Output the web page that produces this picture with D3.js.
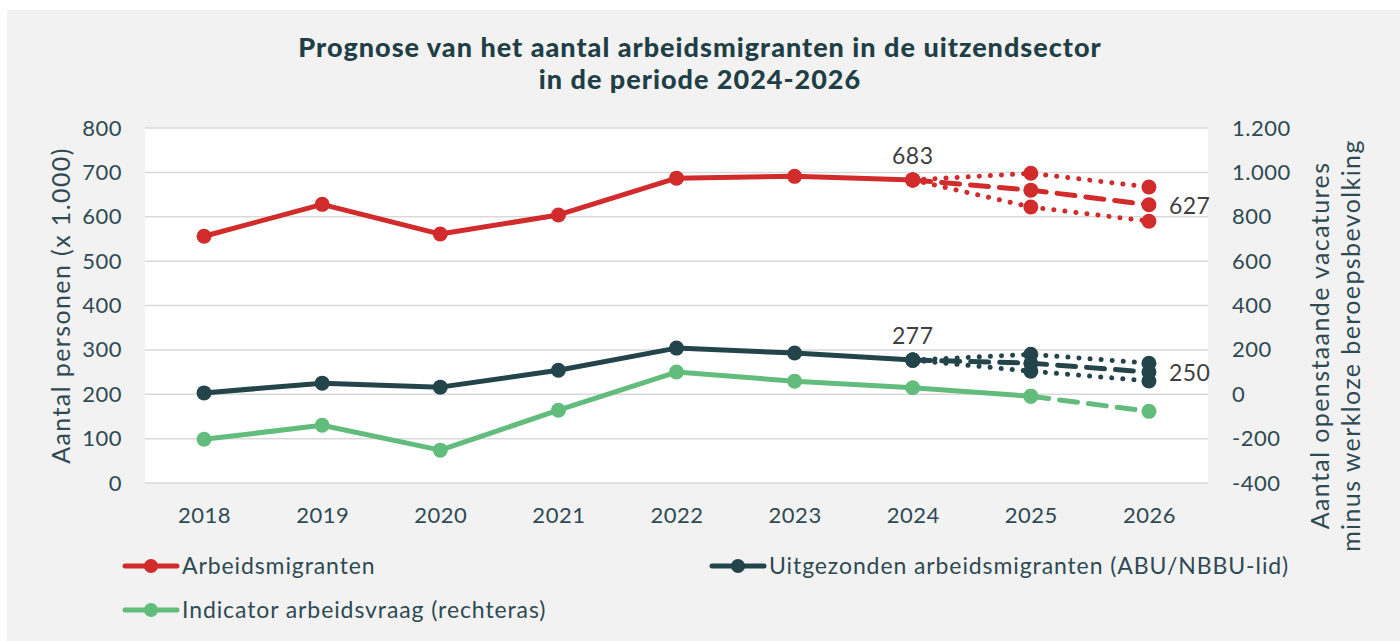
<!DOCTYPE html>
<html>
<head>
<meta charset="utf-8">
<script src="https://cdn.jsdelivr.net/npm/d3@7"></script>
<style>
  html, body { margin: 0; padding: 0; background: #fff; }
  svg { display: block; font-family: Lato, "Open Sans", sans-serif; }
</style>
</head>
<body>
<div class="graph"></div>
<script>
// Data
const years = ['2018', '2019', '2020', '2021', '2022', '2023', '2024', '2025', '2026'];
const leftTicks = [0, 100, 200, 300, 400, 500, 600, 700, 800];
const rightTicks = [-400, -200, 0, 200, 400, 600, 800, 1000, 1200];

const migranten = [556, 628, 561, 604, 687, 691, 683];
const migrantenMid = [683, 660, 627];
const migrantenHigh = [683, 698, 667];
const migrantenLow = [683, 622, 590];

const uitgezonden = [203, 225, 216, 254, 304, 293, 277];
const uitgezondenMid = [277, 270, 250];
const uitgezondenHigh = [277, 290, 270];
const uitgezondenLow = [277, 252, 230];

const indicator = [-203, -140, -252, -72, 100, 59, 29, -9];
const indicatorForecast = [-9, -77];

const forecastYears = ['2024', '2025', '2026'];

document.addEventListener('DOMContentLoaded', function () {
  const width = 1400;
  const height = 641;
  const red = '#d22b2b';
  const dark = '#24444b';
  const green = '#62bd7c';
  const textColor = '#2e4a52';

  const svg = d3.select('.graph')
    .append('svg')
    .attr('width', width)
    .attr('height', height);

  // Background panel
  svg.append('rect')
    .attr('x', 7).attr('y', 10)
    .attr('width', width - 7).attr('height', height - 10)
    .attr('fill', '#f2f2f2');

  const plot = { left: 145, right: 1208, top: 128, bottom: 483 };

  svg.append('rect')
    .attr('x', plot.left).attr('y', plot.top)
    .attr('width', plot.right - plot.left).attr('height', plot.bottom - plot.top)
    .attr('fill', '#fff');

  // Scales
  const x = d3.scalePoint()
    .domain(years)
    .range([plot.left, plot.right])
    .padding(0.5);

  const yLeft = d3.scaleLinear().domain([0, 800]).range([plot.bottom, plot.top]);
  const yRight = d3.scaleLinear().domain([-400, 1200]).range([plot.bottom, plot.top]);

  // Gridlines
  svg.append('g')
    .selectAll('line')
    .data(leftTicks)
    .enter()
    .append('line')
    .attr('x1', plot.left).attr('x2', plot.right)
    .attr('y1', d => yLeft(d)).attr('y2', d => yLeft(d))
    .attr('stroke', '#d9d9d9')
    .attr('stroke-width', 1.5);

  function styleTicks(g) {
    g.select('.domain').remove();
    g.selectAll('text')
      .attr('font-size', '22px')
      .attr('font-family', 'Lato, sans-serif')
      .attr('letter-spacing', '0.5px')
      .attr('fill', textColor);
  }

  // Left axis
  svg.append('g')
    .attr('transform', `translate(${plot.left - 23},0)`)
    .call(d3.axisLeft(yLeft).tickValues(leftTicks).tickSize(0).tickPadding(0))
    .call(styleTicks);

  // Right axis
  const nl = d3.formatLocale({ decimal: ',', thousands: '.', grouping: [3], currency: ['€', ''], minus: '-' });
  svg.append('g')
    .attr('transform', `translate(${plot.right + 24},0)`)
    .call(d3.axisRight(yRight).tickValues(rightTicks).tickSize(0).tickPadding(0).tickFormat(nl.format(',')))
    .call(styleTicks);

  // X axis
  svg.append('g')
    .attr('transform', `translate(0,${plot.bottom + 20})`)
    .call(d3.axisBottom(x).tickSize(0).tickPadding(0))
    .call(styleTicks)
    .selectAll('text')
    .attr('dy', '0.9em');

  // Axis titles
  const mid = (plot.top + plot.bottom) / 2;
  svg.append('text')
    .attr('transform', `translate(70,${mid}) rotate(-90)`)
    .attr('text-anchor', 'middle')
    .attr('font-size', '25px')
    .attr('letter-spacing', '1.4px')
    .attr('fill', textColor)
    .text('Aantal personen (x 1.000)');

  svg.append('text')
    .attr('transform', `translate(1329,${mid + 40}) rotate(-90)`)
    .attr('text-anchor', 'middle')
    .attr('font-size', '25px')
    .attr('letter-spacing', '1.4px')
    .attr('fill', textColor)
    .text('Aantal openstaande vacatures');
  svg.append('text')
    .attr('transform', `translate(1360,${mid + 40}) rotate(-90)`)
    .attr('text-anchor', 'middle')
    .attr('font-size', '25px')
    .attr('letter-spacing', '1.4px')
    .attr('fill', textColor)
    .text('minus werkloze beroepsbevolking');

  // Title
  const title = svg.append('text')
    .attr('text-anchor', 'middle')
    .attr('font-size', '27px')
    .attr('font-weight', 900)
    .attr('letter-spacing', '1px')
    .attr('fill', '#1f3f46');
  title.append('tspan').attr('x', 700).attr('y', 57).text('Prognose van het aantal arbeidsmigranten in de uitzendsector');
  title.append('tspan').attr('x', 700).attr('y', 89).text('in de periode 2024-2026');

  // Line helper
  function drawSeries(values, yearList, scale, color, dash) {
    const pts = values.map((v, i) => [x(yearList[i]), scale(v)]);
    svg.append('path')
      .attr('d', d3.line()(pts))
      .attr('fill', 'none')
      .attr('stroke', color)
      .attr('stroke-width', 5)
      .attr('stroke-linecap', 'round')
      .attr('stroke-linejoin', 'round')
      .attr('stroke-dasharray', dash || null);
    svg.append('g')
      .selectAll('circle')
      .data(pts)
      .enter()
      .append('circle')
      .attr('cx', d => d[0])
      .attr('cy', d => d[1])
      .attr('r', 7.5)
      .attr('fill', color);
  }

  const dotted = '0.1 11';
  const dashed = '18 11';

  drawSeries(indicator, years, yRight, green);
  drawSeries(indicatorForecast, ['2025', '2026'], yRight, green, dashed);

  drawSeries(uitgezonden, years, yLeft, dark);
  drawSeries(uitgezondenHigh, forecastYears, yLeft, dark, dotted);
  drawSeries(uitgezondenLow, forecastYears, yLeft, dark, dotted);
  drawSeries(uitgezondenMid, forecastYears, yLeft, dark, dashed);

  drawSeries(migranten, years, yLeft, red);
  drawSeries(migrantenHigh, forecastYears, yLeft, red, dotted);
  drawSeries(migrantenLow, forecastYears, yLeft, red, dotted);
  drawSeries(migrantenMid, forecastYears, yLeft, red, dashed);

  // Data labels
  const labels = [
    { year: '2024', value: migranten[6], dx: 0, dy: -16, anchor: 'middle' },
    { year: '2026', value: migrantenMid[2], dx: 20, dy: 9, anchor: 'start' },
    { year: '2024', value: uitgezonden[6], dx: 0, dy: -16, anchor: 'middle' },
    { year: '2026', value: uitgezondenMid[2], dx: 20, dy: 9, anchor: 'start' }
  ];
  svg.append('g')
    .selectAll('text')
    .data(labels)
    .enter()
    .append('text')
    .attr('x', d => x(d.year) + d.dx)
    .attr('y', d => yLeft(d.value) + d.dy)
    .attr('text-anchor', d => d.anchor)
    .attr('font-size', '23px')
    .attr('letter-spacing', '0.5px')
    .attr('fill', '#404040')
    .text(d => d.value);

  // Legend
  const legendItems = [
    { name: 'Arbeidsmigranten', color: red, x: 123, y: 566 },
    { name: 'Uitgezonden arbeidsmigranten (ABU/NBBU-lid)', color: dark, x: 710, y: 566 },
    { name: 'Indicator arbeidsvraag (rechteras)', color: green, x: 123, y: 610 }
  ];
  const legend = svg.append('g').attr('class', 'legend');
  const item = legend.selectAll('g')
    .data(legendItems)
    .enter()
    .append('g')
    .attr('transform', d => `translate(${d.x},${d.y})`);
  item.append('line')
    .attr('x1', 2).attr('x2', 54)
    .attr('stroke', d => d.color)
    .attr('stroke-width', 5)
    .attr('stroke-linecap', 'round');
  item.append('circle')
    .attr('cx', 28).attr('r', 7)
    .attr('fill', d => d.color);
  item.append('text')
    .attr('x', 59)
    .attr('dy', '0.35em')
    .attr('font-size', '23px')
    .attr('letter-spacing', '0.9px')
    .attr('fill', textColor)
    .text(d => d.name);
});
</script>
</body>
</html>
